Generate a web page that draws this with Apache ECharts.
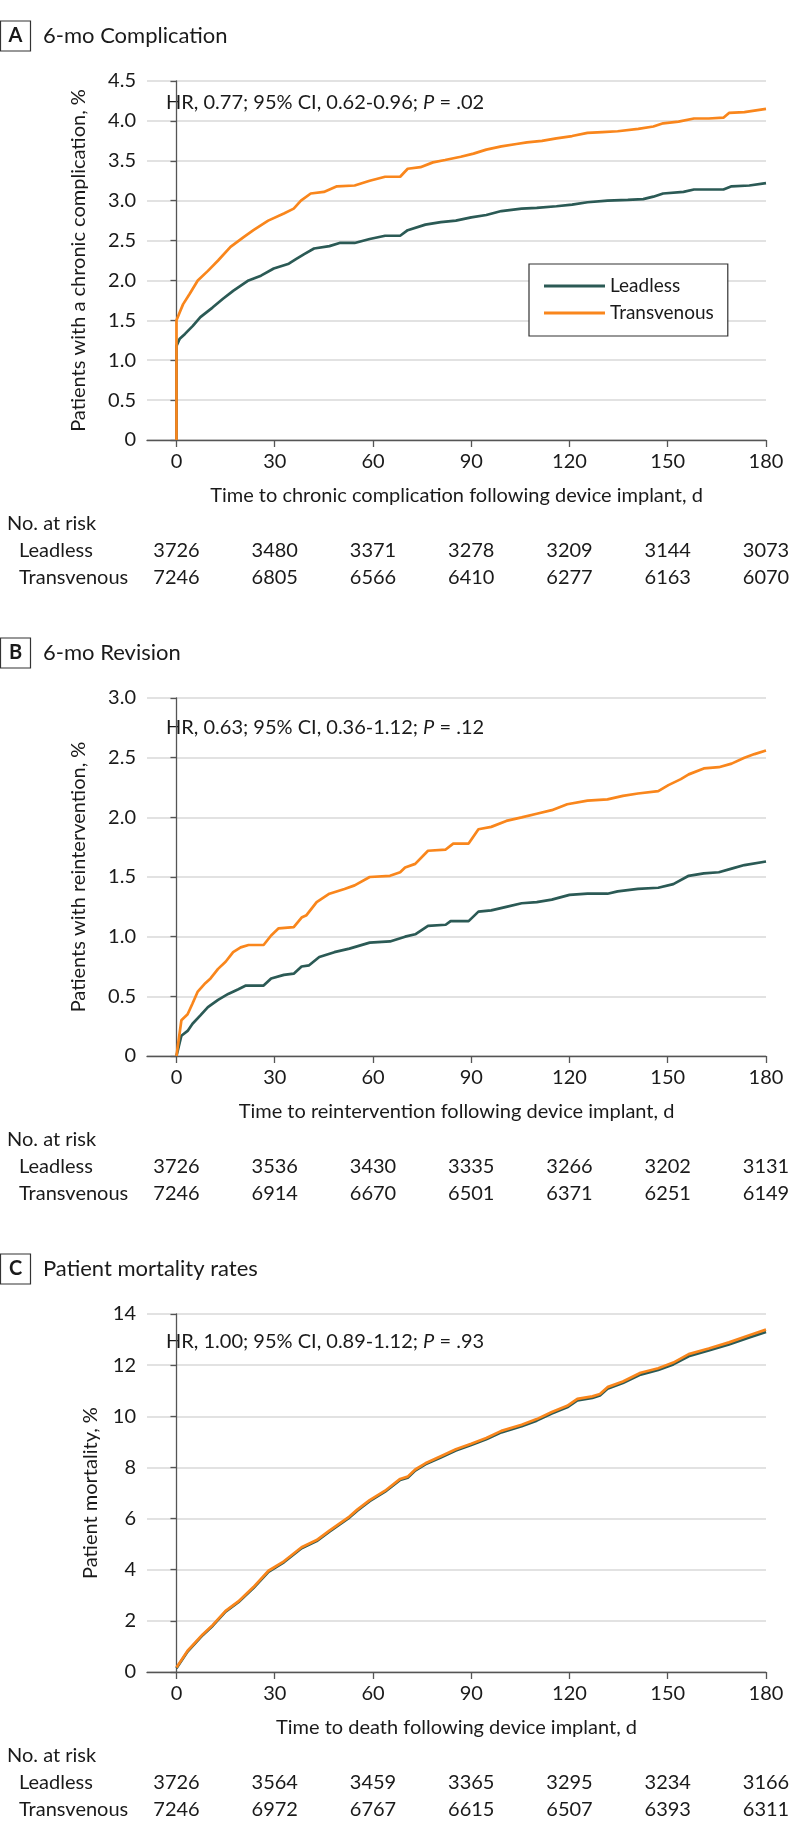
<!DOCTYPE html>
<html><head><meta charset="utf-8">
<script src="https://cdn.jsdelivr.net/npm/echarts@6/dist/echarts.min.js"></script>
<style>html,body{margin:0;padding:0;background:#fff}#c{width:794px;height:1839px}</style>
</head><body><div id="c"></div>
<script>
// ---------- DATA ----------
const xTicks = [0, 30, 60, 90, 120, 150, 180];

// Panel A: 6-mo Complication
const aLeadDays = [0,0,1,2.6,5,7.3,11,14.2,17.3,22,25.8,29.7,34.3,36.6,39,42,46.7,49.8,54.4,59,63.7,68.3,70.6,76,80.7,85.3,90,94.6,99.2,105.4,110,116,120.8,125.5,131.6,137.8,142.5,145.6,148.6,154.8,158,167,169.5,174.9,180];
const aLeadVals = [0,1.18,1.27,1.33,1.43,1.54,1.66,1.77,1.87,2.0,2.06,2.15,2.21,2.27,2.33,2.40,2.43,2.47,2.47,2.52,2.56,2.56,2.63,2.70,2.73,2.75,2.79,2.82,2.87,2.90,2.91,2.93,2.95,2.98,3.00,3.01,3.02,3.05,3.09,3.11,3.14,3.14,3.18,3.19,3.22];
const aTransDays = [0,0,1,2,4,6.5,9.6,12.7,16.5,20.4,23.5,28,32.8,35.8,38,41,45,49,54.4,59,63.7,68.3,70.6,74.5,78.3,82,86.8,90.7,94.6,99.2,103.8,107,111.6,116,120.8,125.5,130,134.7,141,145.6,148.6,153.3,158,162.5,167,168.7,173.4,180];
const aTransVals = [0,1.50,1.60,1.70,1.83,2.0,2.12,2.25,2.42,2.54,2.63,2.75,2.84,2.90,3.00,3.09,3.11,3.18,3.19,3.25,3.30,3.30,3.40,3.42,3.48,3.51,3.55,3.59,3.64,3.68,3.71,3.73,3.75,3.78,3.81,3.85,3.86,3.87,3.90,3.93,3.97,3.99,4.03,4.03,4.04,4.10,4.11,4.15];
const aRiskLead = [3726,3480,3371,3278,3209,3144,3073];
const aRiskTrans = [7246,6805,6566,6410,6277,6163,6070];

// Panel B: 6-mo Revision
const bLeadDays = [0,1.5,3.4,4.9,7.3,9.6,12.7,15.8,18.9,21.2,26.6,28.9,32.8,35.8,38.2,40.5,43.6,48.2,52.8,59,65.2,69.8,72.9,76.8,82.2,83.7,89.2,92.2,96.1,100.7,105.4,110,114.6,120,125.5,131.6,134.7,140.9,147.1,151.7,156.4,161,165.6,169.5,173.4,180];
const bLeadVals = [0,0.17,0.21,0.27,0.34,0.41,0.47,0.52,0.56,0.59,0.59,0.65,0.68,0.69,0.75,0.76,0.83,0.87,0.90,0.95,0.96,1.00,1.02,1.09,1.10,1.13,1.13,1.21,1.22,1.25,1.28,1.29,1.31,1.35,1.36,1.36,1.38,1.40,1.41,1.44,1.51,1.53,1.54,1.57,1.60,1.63];
const bTransDays = [0,1.5,3.4,4.9,6.5,8.8,10.4,12.7,15,17.3,19.6,22,26.6,28.9,31.2,35.8,38.2,39.7,42.8,46.7,51.3,54.4,59,65.2,68.3,69.8,72.9,76.8,82.2,84.5,89.2,92.2,96.1,100.7,105.4,110,114.6,119.3,125.5,131.6,136.3,140.9,147.1,150.2,154,156.4,161,165.6,169.5,173.4,176.5,180];
const bTransVals = [0,0.30,0.35,0.44,0.54,0.61,0.65,0.73,0.79,0.87,0.91,0.93,0.93,1.01,1.07,1.08,1.16,1.18,1.29,1.36,1.40,1.43,1.50,1.51,1.54,1.58,1.61,1.72,1.73,1.78,1.78,1.90,1.92,1.97,2.00,2.03,2.06,2.11,2.14,2.15,2.18,2.20,2.22,2.27,2.32,2.36,2.41,2.42,2.45,2.50,2.53,2.56];
const bRiskLead = [3726,3536,3430,3335,3266,3202,3131];
const bRiskTrans = [7246,6914,6670,6501,6371,6251,6149];

// Panel C: Patient mortality rates
const cDays = [0,3.4,8,11.1,15,18.9,23.5,28.1,32.8,38.2,42.8,46.7,52.8,55.2,59,63.7,68.3,70.6,72.9,76,80.7,85.3,90,94.6,99.2,105.4,110,114.6,119.3,122.4,127,129.3,131.6,136.3,141.7,147.1,151.7,156.4,162.5,168.7,174.9,180];
const cLeadVals = [0.15,0.80,1.44,1.81,2.36,2.73,3.28,3.92,4.29,4.84,5.12,5.49,6.04,6.31,6.68,7.05,7.51,7.60,7.88,8.12,8.39,8.66,8.88,9.10,9.37,9.61,9.83,10.11,10.35,10.62,10.72,10.81,11.08,11.30,11.63,11.81,12.03,12.35,12.57,12.81,13.08,13.30];
const cTransVals = [0.18,0.83,1.47,1.84,2.39,2.76,3.32,3.96,4.33,4.88,5.16,5.53,6.08,6.35,6.72,7.09,7.55,7.64,7.92,8.16,8.44,8.71,8.93,9.15,9.43,9.67,9.89,10.17,10.41,10.68,10.78,10.87,11.14,11.36,11.70,11.88,12.10,12.43,12.65,12.89,13.17,13.39];
const cRiskLead = [3726,3564,3459,3365,3295,3234,3166];
const cRiskTrans = [7246,6972,6767,6615,6507,6393,6311];

// ---------- STYLE / LAYOUT ----------
const FONT = 'Lato';
const TXT = '#1a1a1a';
const C_LEAD = '#2b5a55';
const C_TRANS = '#f9861c';
const zip = (xs, ys) => xs.map((x, i) => [x, ys[i]]);

const panels = [
  {letter:'A', title:'6-mo Complication', boxY:21, top:81, height:359, ymax:4.5, yint:0.5, dec:1,
   yname:'Patients with a chronic complication, %', ynameGap:58,
   xname:'Time to chronic complication following device implant, d',
   hr:['HR, 0.77; 95% CI, 0.62-0.96; ', '= .02'], hrY:103,
   lead:zip(aLeadDays,aLeadVals), trans:zip(aTransDays,aTransVals), rL:aRiskLead, rT:aRiskTrans},
  {letter:'B', title:'6-mo Revision', boxY:638, top:698, height:358, ymax:3.0, yint:0.5, dec:1,
   yname:'Patients with reintervention, %', ynameGap:58,
   xname:'Time to reintervention following device implant, d',
   hr:['HR, 0.63; 95% CI, 0.36-1.12; ', '= .12'], hrY:728,
   lead:zip(bLeadDays,bLeadVals), trans:zip(bTransDays,bTransVals), rL:bRiskLead, rT:bRiskTrans},
  {letter:'C', title:'Patient mortality rates', boxY:1254, top:1314, height:358, ymax:14, yint:2, dec:0,
   yname:'Patient mortality, %', ynameGap:46,
   xname:'Time to death following device implant, d',
   hr:['HR, 1.00; 95% CI, 0.89-1.12; ', '= .93'], hrY:1342,
   lead:zip(cDays,cLeadVals), trans:zip(cDays,cTransVals), rL:cRiskLead, rT:cRiskTrans}
];

const grid = [], xAxis = [], yAxis = [], series = [], graphic = [];
const txt = {fontFamily: FONT, color: TXT, fontSize: 20};

panels.forEach((p, i) => {
  grid.push({left:147, width:619, top:p.top, height:p.height, containLabel:false});
  // main x axis
  xAxis.push({type:'value', gridIndex:i, min:-9, max:180,
    name:p.xname, nameLocation:'middle', nameGap:46,
    nameTextStyle:Object.assign({}, txt, {lineHeight:20}),
    axisLine:{show:true, onZero:false, lineStyle:{color:'#555', width:1.3}},
    axisTick:{show:true, customValues:xTicks, length:7, lineStyle:{color:'#555', width:1.3}},
    axisLabel:Object.assign({customValues:xTicks, margin:12, lineHeight:20}, txt),
    splitLine:{show:false}});
  // at-risk rows as label-only axes
  [[p.rL, 93], [p.rT, 120]].forEach(([arr, off]) => {
    xAxis.push({type:'value', gridIndex:i, min:-9, max:180, position:'bottom', offset:off,
      axisLine:{show:false}, axisTick:{show:false}, splitLine:{show:false},
      axisLabel:Object.assign({customValues:xTicks, margin:8, lineHeight:20,
        formatter:(v) => String(arr[xTicks.indexOf(v)])}, txt)});
  });
  yAxis.push({type:'value', gridIndex:i, min:0, max:p.ymax, interval:p.yint,
    name:p.yname, nameLocation:'middle', nameGap:p.ynameGap, nameRotate:90,
    nameTextStyle:Object.assign({}, txt),
    axisLine:{show:true, lineStyle:{color:'#555', width:1.3}},
    axisTick:{show:true, length:6, lineStyle:{color:'#555', width:1.3}},
    axisLabel:Object.assign({margin:11, formatter:(v) => v === 0 ? '0' : v.toFixed(p.dec)}, txt),
    splitLine:{show:true, lineStyle:{color:'#d9d9d9', width:1.6}}});
  const xi = i * 3;
  series.push({name:'Leadless', type:'line', xAxisIndex:xi, yAxisIndex:i, data:p.lead,
    symbol:'none', lineStyle:{color:C_LEAD, width:2.7}, itemStyle:{color:C_LEAD}, z:3});
  series.push({name:'Transvenous', type:'line', xAxisIndex:xi, yAxisIndex:i, data:p.trans,
    symbol:'none', lineStyle:{color:C_TRANS, width:2.7}, itemStyle:{color:C_TRANS}, z:4});

  // panel letter box and title
  graphic.push({type:'rect', shape:{x:0.5, y:p.boxY, width:30, height:30},
    style:{fill:'#fff', stroke:'#333', lineWidth:1.2}});
  graphic.push({type:'text', x:15.5, y:p.boxY + 15,
    style:{text:p.letter, fontFamily:FONT, fontWeight:'bold', fontSize:20, fill:TXT, align:'center', verticalAlign:'middle'}});
  graphic.push({type:'text', x:43, y:p.boxY + 15,
    style:{text:p.title, fontFamily:FONT, fontSize:22, fill:TXT, verticalAlign:'middle'}});
  // HR annotation
  graphic.push({type:'text', x:166, y:p.hrY,
    style:{text:'{a|' + p.hr[0] + '}{b|P}{a| ' + p.hr[1] + '}', verticalAlign:'middle',
      rich:{a:{fontFamily:FONT, fontSize:20, fill:TXT}, b:{fontFamily:FONT, fontSize:20, fontStyle:'italic', fill:TXT}}}});
  // at-risk row labels
  const gb = p.top + p.height;
  graphic.push({type:'text', x:7, y:gb + 84, style:{text:'No. at risk', fontFamily:FONT, fontSize:20, fill:TXT, verticalAlign:'middle'}});
  graphic.push({type:'text', x:19, y:gb + 111, style:{text:'Leadless', fontFamily:FONT, fontSize:20, fill:TXT, verticalAlign:'middle'}});
  graphic.push({type:'text', x:19, y:gb + 138, style:{text:'Transvenous', fontFamily:FONT, fontSize:20, fill:TXT, verticalAlign:'middle'}});
});

const option = {
  animation:false,
  backgroundColor:'#fff',
  textStyle:{fontFamily:FONT, color:TXT},
  grid, xAxis, yAxis, series, graphic,
  legend:{data:[{name:'Leadless', itemStyle:{color:C_LEAD}}, {name:'Transvenous', itemStyle:{color:C_TRANS}}],
    orient:'vertical', left:529, top:264, icon:'rect',
    padding:[12,14,13,15], itemGap:7, itemWidth:61, itemHeight:3,
    borderColor:'#333', borderWidth:1.2, backgroundColor:'#fff',
    textStyle:{fontFamily:FONT, fontSize:19, color:TXT, lineHeight:20}}
};
const chart = echarts.init(document.getElementById('c'));
chart.setOption(option);
</script></body></html>
